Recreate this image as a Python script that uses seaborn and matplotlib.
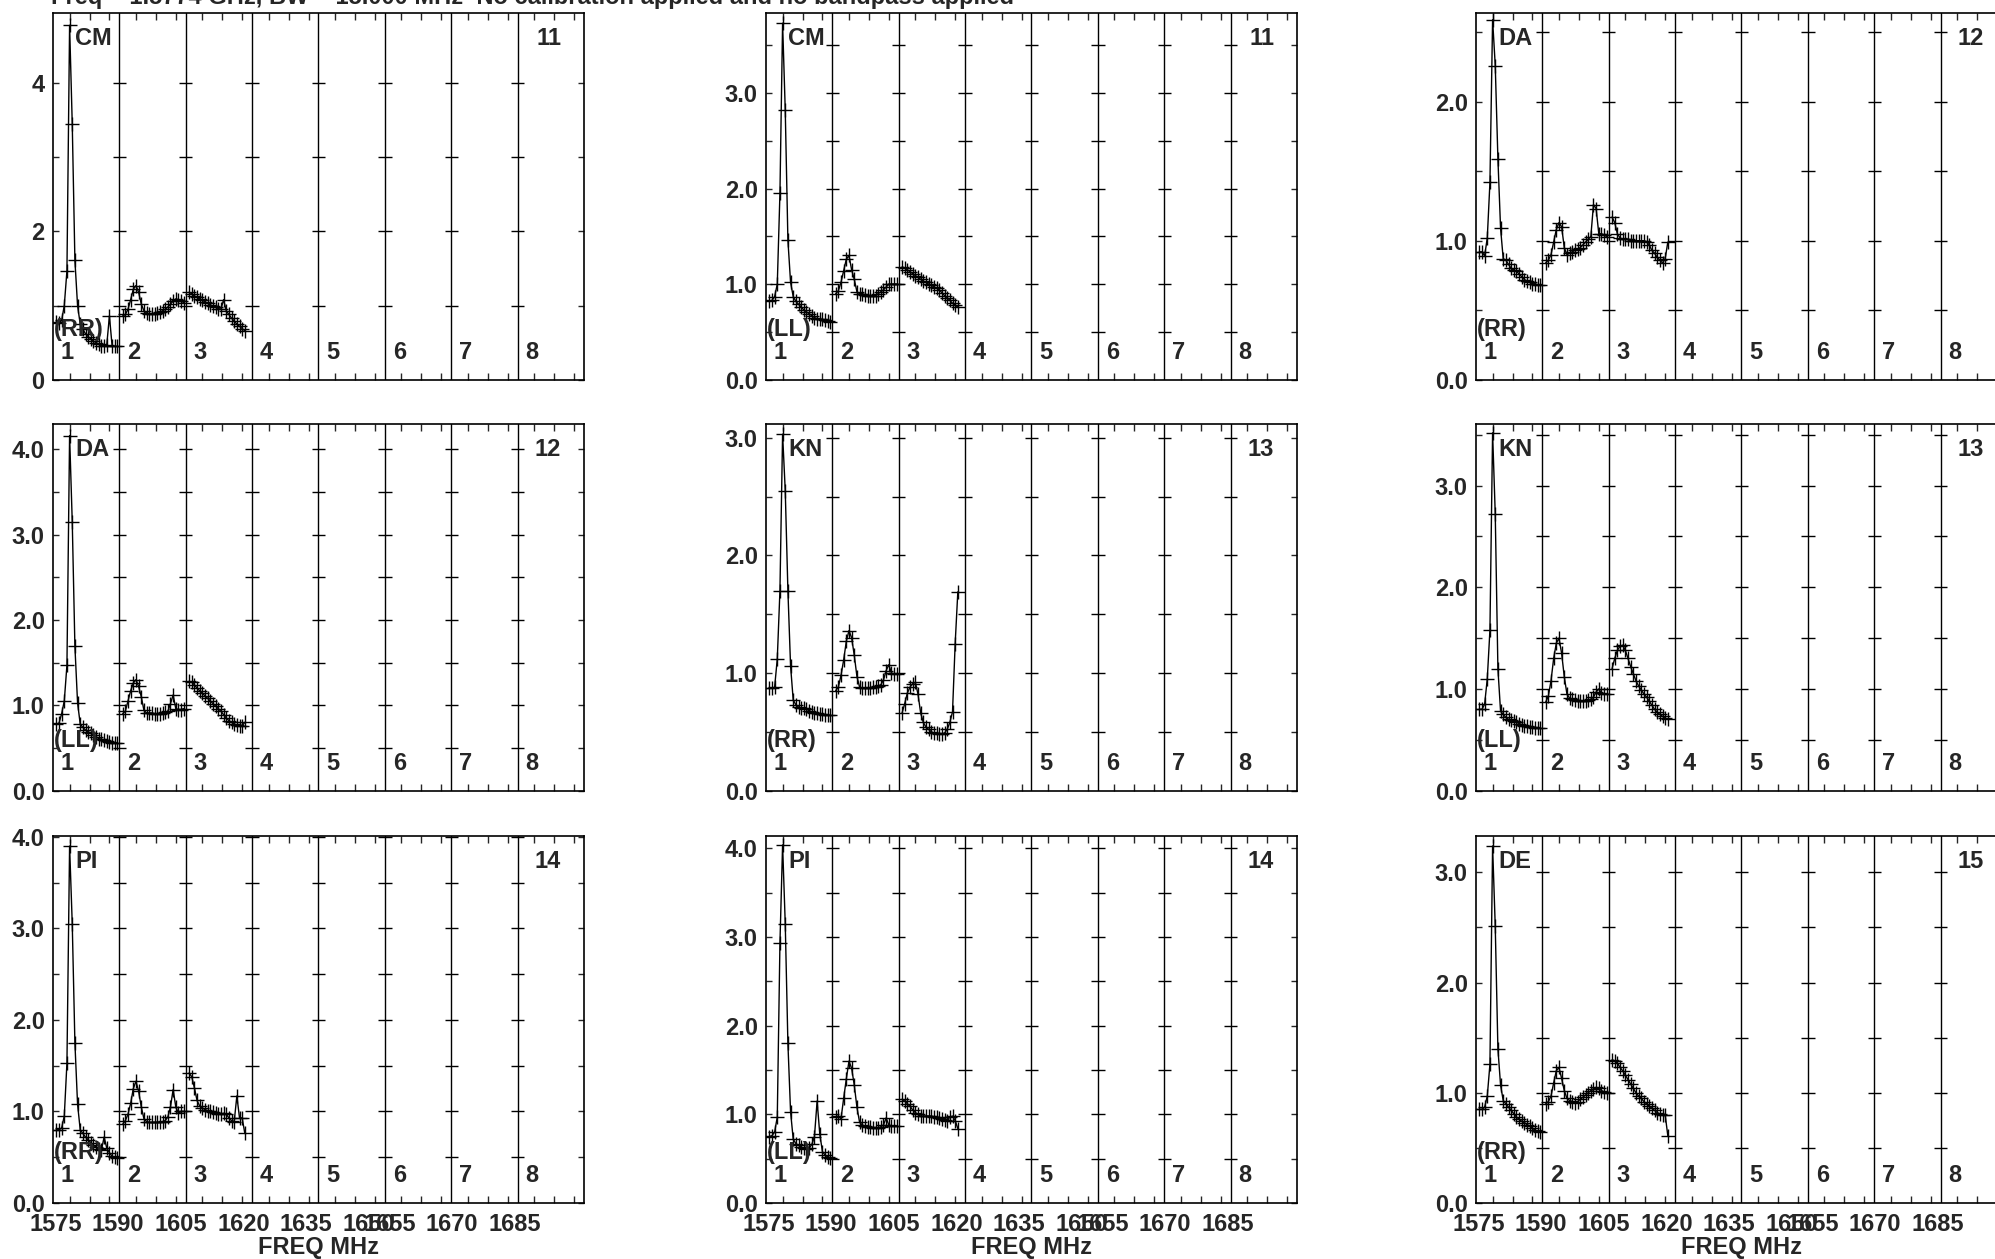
import numpy as np
import matplotlib
matplotlib.use("Agg")
import matplotlib.pyplot as plt
import matplotlib.transforms as mtransforms
import seaborn as sns

sns.set_style("white")
plt.rcParams['font.family'] = ['Liberation Sans', 'DejaVu Sans']
plt.rcParams['font.weight'] = 'bold'
plt.rcParams['axes.labelweight'] = 'bold'

# --- data ---
title = "Freq = 1.5774 GHz, BW = 15.000 MHz  No calibration applied and no bandpass applied"

sources = ["CM", "CM", "DA", "DA", "KN", "KN", "PI", "PI", "DE"]
pols = ["(RR)", "(LL)", "(RR)", "(LL)", "(RR)", "(LL)", "(RR)", "(LL)", "(RR)"]
baselines = ["11", "11", "12", "12", "13", "13", "14", "14", "15"]
ymax = [4.95, 3.84, 2.64, 4.30, 3.12, 3.61, 4.01, 4.14, 3.33]
ystep = [1, 0.5, 0.5, 0.5, 0.5, 0.5, 0.5, 0.5, 0.5]
ylabel_step = [2, 1, 1, 1, 1, 1, 1, 1, 1]
if_labels = ["1", "2", "3", "4", "5", "6", "7", "8"]
freq_ticks = [1575, 1590, 1605, 1620, 1635, 1650, 1655, 1670, 1685]

cm_rr_if1 = [0.78, 0.76, 0.80, 1.00, 1.47, 4.78, 3.45, 1.61, 1.00, 0.75, 0.68, 0.62,
             0.58, 0.55, 0.52, 0.50, 0.48, 0.46, 0.45, 0.47, 0.86, 0.46, 0.45, 0.45]
cm_rr_if2 = [0.86, 0.88, 0.95, 1.08, 1.22, 1.27, 1.18, 1.02, 0.93, 0.90, 0.89, 0.89,
             0.89, 0.90, 0.91, 0.93, 0.95, 0.98, 1.02, 1.06, 1.09, 1.08, 1.06, 1.04]
cm_rr_if3 = [1.18, 1.16, 1.13, 1.11, 1.09, 1.07, 1.05, 1.03, 1.01, 0.99, 0.98,
             0.96, 0.95, 1.08, 0.93, 0.88, 0.83, 0.79, 0.75, 0.72, 0.69, 0.66]

cm_ll_if1 = [0.82, 0.83, 0.87, 1.00, 1.95, 3.73, 2.82, 1.46, 1.02, 0.87, 0.82, 0.79,
             0.76, 0.73, 0.71, 0.69, 0.67, 0.65, 0.64, 0.63, 0.63, 0.62, 0.61, 0.60]
cm_ll_if2 = [0.90, 0.93, 1.02, 1.14, 1.26, 1.30, 1.15, 1.05, 0.92, 0.90, 0.90, 0.89,
             0.88, 0.88, 0.88, 0.88, 0.90, 0.92, 0.94, 0.97, 1.00, 1.00, 1.00, 1.00]
cm_ll_if3 = [1.18, 1.17, 1.15, 1.13, 1.11, 1.09, 1.07, 1.05, 1.03, 1.02, 1.00,
             0.99, 0.97, 0.96, 0.94, 0.91, 0.88, 0.86, 0.83, 0.80, 0.78, 0.76]

da_rr_if1 = [0.92, 0.92, 0.89, 1.02, 1.42, 2.59, 2.26, 1.59, 1.09, 0.87, 0.86, 0.83,
             0.80, 0.79, 0.78, 0.76, 0.74, 0.72, 0.71, 0.70, 0.69, 0.69, 0.68, 0.68]
da_rr_if2 = [0.84, 0.86, 0.90, 0.99, 1.08, 1.13, 1.10, 0.95, 0.90, 0.91, 0.92, 0.93,
             0.94, 0.95, 0.97, 0.99, 1.01, 1.03, 1.26, 1.23, 1.05, 1.05, 1.04, 1.03]
da_rr_if3 = [1.17, 1.13, 1.05, 1.02, 1.01, 1.01, 1.01, 1.00, 1.00, 1.00, 1.00,
             1.00, 1.00, 0.99, 0.97, 0.93, 0.91, 0.88, 0.86, 0.84, 0.87, 0.99]

da_ll_if1 = [0.78, 0.79, 0.90, 1.05, 1.47, 4.16, 3.15, 1.69, 1.03, 0.78, 0.74, 0.71,
             0.69, 0.67, 0.65, 0.63, 0.61, 0.60, 0.59, 0.58, 0.57, 0.56, 0.56, 0.56]
da_ll_if2 = [0.90, 0.93, 1.05, 1.17, 1.26, 1.30, 1.22, 1.10, 0.94, 0.91, 0.91, 0.91,
             0.90, 0.90, 0.90, 0.91, 0.92, 0.93, 1.02, 1.12, 0.96, 0.95, 0.95, 0.96]
da_ll_if3 = [1.28, 1.27, 1.24, 1.20, 1.17, 1.14, 1.11, 1.08, 1.05, 1.02, 0.99,
             0.96, 0.93, 0.89, 0.85, 0.82, 0.80, 0.78, 0.77, 0.76, 0.76, 0.80]

kn_rr_if1 = [0.87, 0.87, 0.88, 1.12, 1.70, 3.03, 2.55, 1.70, 1.06, 0.77, 0.73, 0.71,
             0.70, 0.70, 0.69, 0.68, 0.67, 0.66, 0.66, 0.65, 0.65, 0.64, 0.64, 0.64]
kn_rr_if2 = [0.85, 0.88, 0.98, 1.11, 1.27, 1.36, 1.30, 1.15, 0.97, 0.88, 0.87, 0.87,
             0.87, 0.87, 0.88, 0.88, 0.89, 0.90, 0.94, 1.02, 1.07, 1.00, 0.99, 0.99]
kn_rr_if3 = [0.66, 0.74, 0.83, 0.88, 0.91, 0.92, 0.82, 0.66, 0.58, 0.54, 0.52,
             0.50, 0.49, 0.49, 0.48, 0.48, 0.49, 0.52, 0.58, 0.67, 1.25, 1.69]

kn_ll_if1 = [0.80, 0.80, 0.85, 1.10, 1.58, 3.52, 2.72, 1.20, 0.78, 0.75, 0.72, 0.70,
             0.69, 0.68, 0.67, 0.66, 0.65, 0.64, 0.64, 0.63, 0.63, 0.62, 0.62, 0.62]
kn_ll_if2 = [0.87, 0.93, 1.08, 1.30, 1.45, 1.50, 1.35, 1.12, 0.95, 0.91, 0.90, 0.89,
             0.88, 0.88, 0.88, 0.88, 0.89, 0.90, 0.92, 0.97, 1.00, 0.96, 0.95, 0.95]
kn_ll_if3 = [1.20, 1.30, 1.38, 1.42, 1.43, 1.38, 1.30, 1.22, 1.15, 1.08, 1.03,
             0.99, 0.95, 0.92, 0.88, 0.84, 0.80, 0.77, 0.75, 0.73, 0.71, 0.70]

pi_rr_if1 = [0.80, 0.80, 0.82, 0.95, 1.53, 3.90, 3.05, 1.75, 1.08, 0.80, 0.76, 0.72,
             0.69, 0.66, 0.63, 0.61, 0.59, 0.58, 0.72, 0.60, 0.55, 0.51, 0.50, 0.49]
pi_rr_if2 = [0.86, 0.90, 0.97, 1.09, 1.25, 1.33, 1.22, 1.05, 0.92, 0.89, 0.88, 0.88,
             0.88, 0.88, 0.88, 0.89, 0.90, 0.94, 1.05, 1.24, 1.05, 0.98, 1.00, 1.00]
pi_rr_if3 = [1.42, 1.38, 1.26, 1.12, 1.06, 1.04, 1.02, 1.01, 1.00, 0.99, 0.98,
             0.97, 0.97, 0.98, 0.97, 0.93, 0.90, 0.89, 1.17, 0.93, 0.93, 0.76]

pi_ll_if1 = [0.75, 0.76, 0.80, 0.97, 2.93, 4.04, 3.15, 1.80, 1.03, 0.72, 0.67, 0.65,
             0.63, 0.62, 0.61, 0.62, 0.66, 0.75, 1.15, 0.78, 0.58, 0.54, 0.52, 0.51]
pi_ll_if2 = [0.97, 0.98, 0.95, 1.18, 1.40, 1.60, 1.52, 1.33, 1.08, 0.91, 0.88, 0.87,
             0.86, 0.86, 0.85, 0.85, 0.85, 0.86, 0.88, 0.96, 0.88, 0.87, 0.87, 0.87]
pi_ll_if3 = [1.17, 1.15, 1.12, 1.09, 1.05, 1.02, 1.00, 0.98, 0.98, 0.98, 0.98,
             0.98, 0.97, 0.97, 0.96, 0.95, 0.94, 0.93, 0.97, 0.98, 0.93, 0.84]

de_rr_if1 = [0.85, 0.85, 0.87, 0.97, 1.26, 3.24, 2.51, 1.40, 1.07, 0.93, 0.90, 0.87,
             0.84, 0.81, 0.78, 0.76, 0.74, 0.73, 0.71, 0.70, 0.68, 0.66, 0.65, 0.64]
de_rr_if2 = [0.90, 0.92, 0.97, 1.09, 1.20, 1.23, 1.13, 1.02, 0.95, 0.93, 0.92, 0.91,
             0.92, 0.94, 0.96, 0.98, 1.00, 1.02, 1.03, 1.05, 1.04, 1.02, 1.01, 1.00]
de_rr_if3 = [1.30, 1.29, 1.27, 1.23, 1.20, 1.16, 1.12, 1.08, 1.04, 1.00, 0.97,
             0.95, 0.92, 0.90, 0.88, 0.86, 0.84, 0.82, 0.81, 0.80, 0.80, 0.61]

panels = [
    [cm_rr_if1, cm_rr_if2, cm_rr_if3],
    [cm_ll_if1, cm_ll_if2, cm_ll_if3],
    [da_rr_if1, da_rr_if2, da_rr_if3],
    [da_ll_if1, da_ll_if2, da_ll_if3],
    [kn_rr_if1, kn_rr_if2, kn_rr_if3],
    [kn_ll_if1, kn_ll_if2, kn_ll_if3],
    [pi_rr_if1, pi_rr_if2, pi_rr_if3],
    [pi_ll_if1, pi_ll_if2, pi_ll_if3],
    [de_rr_if1, de_rr_if2, de_rr_if3],
]

# --- geometry (frequency axis: 8 IFs side by side) ---
x0 = 1574.4
W = 15.9
chan_frac = 0.05 + 0.04 * np.arange(24)
sub_frac = [0.25, 0.55, 0.85]

FIG_W, FIG_H = 1995, 1259
col_left = [53, 766, 1476]
row_top = [12.7, 423.6, 836.0]
ax_w, ax_h = 531, 367
FS = 17

fig = plt.figure(figsize=(FIG_W / 100, FIG_H / 100), dpi=100)
fig.text(51 / FIG_W, 1 - 4 / FIG_H, title, ha='left', va='baseline',
         fontsize=FS, fontweight='bold')

for p in range(9):
    r, c = divmod(p, 3)
    ax = fig.add_axes([col_left[c] / FIG_W, 1 - (row_top[r] + ax_h) / FIG_H,
                       ax_w / FIG_W, ax_h / FIG_H])
    ax.set_xlim(x0, x0 + 8 * W)
    ax.set_ylim(0, ymax[p])

    # IF separators with level crosses
    levels = np.arange(ystep[p], ymax[p], ystep[p])
    for k in range(1, 8):
        b = x0 + k * W
        ax.axvline(b, color='black', lw=1.0, zorder=1)
        ax.hlines(levels, b - 0.1 * W, b + 0.1 * W, color='black', lw=1.0, zorder=1)

    # spectra
    for k, spec in enumerate(panels[p]):
        xs = x0 + k * W + chan_frac[:len(spec)] * W
        sns.lineplot(x=xs, y=spec, ax=ax, color='black', lw=1.0,
                     marker='+', markersize=9.5, markeredgewidth=1.0,
                     markeredgecolor='black', zorder=3)

    # ticks
    yt = np.arange(0, ymax[p] + 1e-6, ylabel_step[p])
    ax.set_yticks(yt)
    if ylabel_step[p] == 2:
        ax.set_yticklabels(["%d" % v for v in yt])
    else:
        ax.set_yticklabels(["%.1f" % v for v in yt])
    ax.set_yticks(levels, minor=True)
    ax.tick_params(axis='y', which='both', direction='in', left=True, right=True,
                   length=4.5, width=1.0, pad=6, labelsize=FS)

    ax.set_xticks(freq_ticks)
    ax.set_xticklabels([str(f) for f in freq_ticks])
    ax.set_xticks([x0 + k * W + s * W for k in range(8) for s in sub_frac], minor=True)
    ax.tick_params(axis='x', which='major', length=0, pad=7, labelsize=FS,
                   labelbottom=(r == 2))
    ax.tick_params(axis='x', which='minor', direction='in', top=True, bottom=True,
                   length=5, width=1.0)
    if r == 2:
        ax.set_xlabel("FREQ MHz", fontsize=FS, fontweight='bold', labelpad=0)
    else:
        ax.set_xlabel("")
    ax.set_ylabel("")

    for s in ax.spines.values():
        s.set_color('black')
        s.set_linewidth(1.2)

    # annotations
    ax.text(22 / ax_w, 1 - 14 / ax_h, sources[p], transform=ax.transAxes,
            ha='left', va='top', fontsize=FS, fontweight='bold')
    ax.text(1 - 23 / ax_w, 1 - 14 / ax_h, baselines[p], transform=ax.transAxes,
            ha='right', va='top', fontsize=FS, fontweight='bold')
    ax.text(0.002, 39 / ax_h, pols[p], transform=ax.transAxes,
            ha='left', va='bottom', fontsize=FS, fontweight='bold')
    trans = mtransforms.blended_transform_factory(ax.transData, ax.transAxes)
    for k, lab in enumerate(if_labels):
        ax.text(x0 + k * W + 0.12 * W, 21 / ax_h, lab, transform=trans,
                ha='left', va='baseline', fontsize=FS, fontweight='bold')

fig.savefig("out.png", dpi=100)
